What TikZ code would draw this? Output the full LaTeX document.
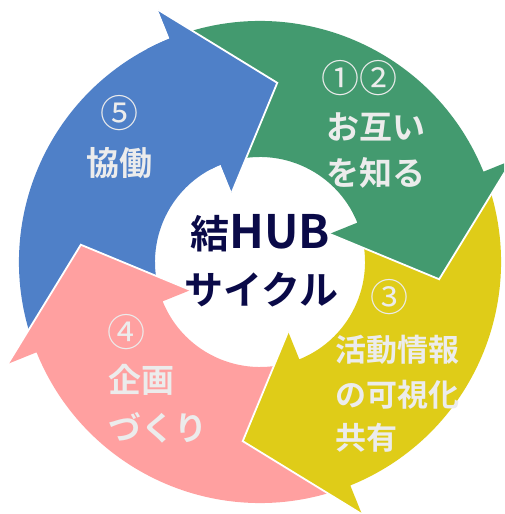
\documentclass[tikz,border=0pt]{standalone}
\usepackage{fontspec}
\setmainfont{Noto Sans CJK JP}[BoldFont={Noto Sans CJK JP Bold}]
\definecolor{cblue}{RGB}{79,128,200}
\definecolor{cgreen}{RGB}{67,154,111}
\definecolor{cyellow}{RGB}{223,204,24}
\definecolor{cpink}{RGB}{255,160,160}
\definecolor{ctext}{RGB}{236,236,236}
\definecolor{cnavy}{RGB}{10,10,72}
% #1 tail angle, #2 barb angle
\newcommand\cycarrow[2]{(#1:241pt) arc[start angle=#1,end angle=#2,radius=241pt] -- (#2:272pt) -- ({#2-27.5}:180pt) -- (#2:75pt) -- (#2:105pt) arc[start angle=#2,end angle=#1,radius=105pt] -- cycle}
\newcommand\cycedge[1]{(#1:272pt) -- ({#1-27.5}:180pt) -- (#1:75pt)}
\tikzset{
  lab/.style={text=ctext, font=\bfseries\fontsize{33}{33}\selectfont, inner sep=0pt},
  labs/.style={text=ctext, font=\bfseries\fontsize{31}{31}\selectfont, inner sep=0pt},
  num/.style={text=ctext, font=\fontsize{38}{38}\selectfont, inner sep=0pt},
  hub/.style={text=cnavy, font=\bfseries\fontsize{39}{39}\selectfont, inner sep=0pt},
  edge/.style={draw=white, line width=1.8pt, line join=miter}
}
\begin{document}
\begin{tikzpicture}[x=1pt,y=1pt]
\useasboundingbox (0,0) rectangle (504,514);
\clip (0,0) rectangle (504,514);
\fill[white] (0,0) rectangle (504,514);
\begin{scope}[shift={(260pt,252pt)}]
  \fill[cblue]   \cycarrow{202}{112};
  \fill[cpink]   \cycarrow{-68}{-158};
  \fill[cyellow] \cycarrow{22}{-68};
  \fill[cgreen]  \cycarrow{112}{22};
  \fill[cblue]   \cycarrow{118}{112};
  \draw[edge] \cycedge{-158};
  \draw[edge] \cycedge{-68};
  \draw[edge] \cycedge{22};
  \draw[edge] \cycedge{112};
\end{scope}
% green
\node[num] (n12) at (359.5,436) {①②};
\node[lab, anchor=west] (g1) at (326,387) {お互い};
\node[lab, anchor=west] (g2) at (326,341) {を知る};
% blue
\node[num] (n5) at (119,401) {⑤};
\node[lab] (b1) at (119.5,351) {協働};
% centre
\node[hub] (h1) at (260,281) {結{\fontsize{46}{46}\selectfont HUB}};
\node[hub] (h2) at (261.5,224) {サイクル};
% yellow
\node[num] (n3) at (389,217) {③};
\node[labs, anchor=west] (y1) at (335,164) {活動情報};
\node[labs, anchor=west] (y2) at (335,119) {の可視化};
\node[labs, anchor=west] (y3) at (335,76) {共有};
% pink
\node[num] (n4) at (126,182) {④};
\node[lab, anchor=west] (p1) at (108,134) {企画};
\node[lab, anchor=west] (p2) at (108,86) {づくり};
\end{tikzpicture}
\end{document}
